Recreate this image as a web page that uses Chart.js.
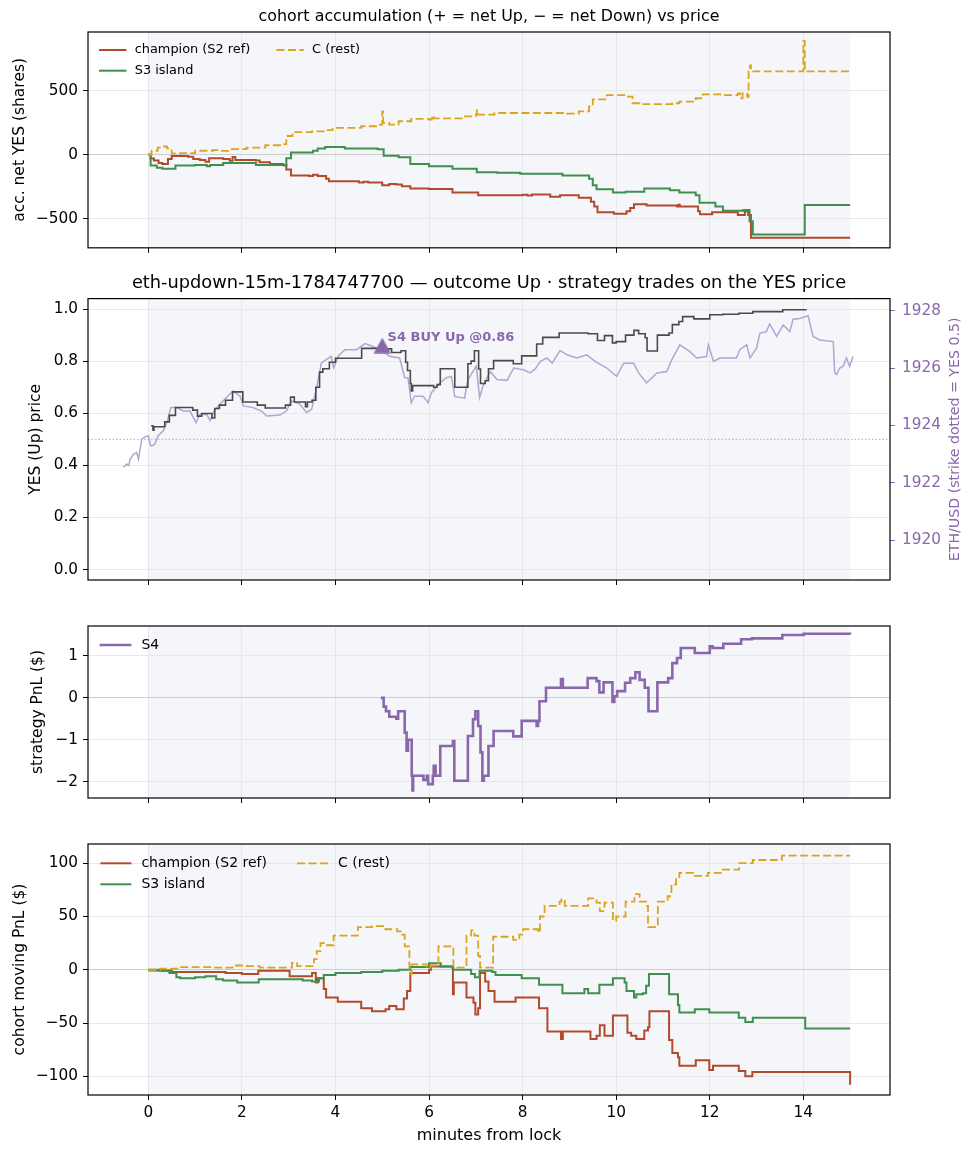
<!DOCTYPE html>
<html><head><meta charset="utf-8">
<script src="https://cdn.jsdelivr.net/npm/chart.js@4.4.1/dist/chart.umd.min.js"></script>
<style>
html,body{margin:0;padding:0;background:#fff;}
#wrap{position:relative;width:973px;height:1156px;overflow:hidden;}
#wrap canvas{position:absolute;left:0;}
</style></head><body>
<div id="wrap">
<canvas id="p1" width="973" height="262" style="top:0px"></canvas>
<canvas id="p2" width="973" height="338" style="top:262px"></canvas>
<canvas id="p3" width="973" height="220" style="top:600px"></canvas>
<canvas id="p4" width="973" height="336" style="top:820px"></canvas>
</div>
<script>
// ---------------- DATA ----------------
const windowStart = 0, windowEnd = 15;           // lock window (minutes)
const xTicks = [0, 2, 4, 6, 8, 10, 12, 14];
const accTicks = [-500, 0, 500];
const yesTicks = [0, 0.2, 0.4, 0.6, 0.8, 1.0];
const ethTicks = [1920, 1922, 1924, 1926, 1928];
const s4Ticks = [-2, -1, 0, 1];
const pnlTicks = [-100, -50, 0, 50, 100];
const strikeYes = 0.5;

// panel 1: accumulated net YES shares [minute, shares]
const accChampion = [[0,0],[0.05,-30],[0.12,-45],[0.22,-64],[0.3,-72],[0.42,-33],[0.5,-10],[0.85,-15],[0.96,-33],[1.1,-41],[1.22,-54],[1.3,-28],[1.6,-33],[1.74,-46],[1.8,-18],[1.86,-41],[2.3,-45],[2.38,-59],[2.6,-72],[2.88,-79],[2.95,-115],[3.05,-161],[3.44,-166],[3.52,-156],[3.62,-165],[3.8,-187],[3.86,-207],[4.5,-217],[4.6,-210],[4.7,-217],[5.0,-238],[5.15,-228],[5.3,-232],[5.42,-245],[5.6,-263],[6.0,-266],[6.5,-294],[7.05,-315],[8.0,-312],[8.1,-318],[8.2,-310],[8.59,-327],[8.8,-315],[9.2,-335],[9.46,-366],[9.53,-404],[9.6,-447],[9.95,-460],[10.22,-440],[10.3,-415],[10.38,-386],[10.65,-396],[11.3,-404],[11.33,-390],[11.36,-404],[11.75,-440],[11.79,-463],[12.05,-447],[12.6,-470],[12.75,-440],[12.82,-470],[12.88,-647],[15,-647]];
const accS3 = [[0,0],[0.05,-84],[0.18,-102],[0.3,-110],[0.58,-84],[1.0,-79],[1.25,-90],[1.32,-79],[1.6,-64],[2.3,-79],[2.9,-84],[2.95,-28],[3.05,18],[3.52,31],[3.62,49],[3.78,61],[4.2,49],[4.9,43],[5.03,-8],[5.35,-20],[5.6,-72],[6.0,-90],[6.5,-110],[7.02,-136],[7.45,-141],[7.95,-148],[8.85,-161],[9.42,-187],[9.5,-238],[9.58,-268],[9.93,-294],[10.2,-289],[10.6,-263],[11.15,-276],[11.35,-294],[11.7,-315],[11.78,-373],[12.12,-404],[12.28,-437],[12.72,-430],[12.85,-519],[12.92,-621],[14.03,-391],[15,-391]];
const accRest = [[0,0],[0.07,31],[0.2,55],[0.28,64],[0.4,49],[0.5,10],[0.7,12],[1.0,31],[1.38,36],[1.5,30],[1.74,43],[2.1,56],[2.5,74],[2.88,82],[2.95,146],[3.08,176],[3.5,182],[3.8,192],[3.94,210],[4.55,222],[4.95,235],[5.0,338],[5.02,248],[5.15,235],[5.35,261],[5.62,279],[6.0,274],[6.06,304],[6.1,284],[6.7,299],[7.0,312],[7.02,345],[7.05,312],[7.4,325],[8.5,325],[8.95,320],[9.2,338],[9.42,376],[9.5,432],[9.8,465],[10.2,453],[10.35,401],[10.5,394],[11.2,401],[11.35,414],[11.7,440],[11.85,470],[12.25,465],[12.6,478],[12.65,440],[12.7,478],[12.8,450],[12.83,650],[12.86,695],[12.88,650],[13.98,650],[14.0,887],[14.03,650],[15,650]];

// panel 2: YES (Up) price and ETH/USD
const yesPrice = [[0.06,0.552],[0.1,0.535],[0.12,0.548],[0.35,0.567],[0.45,0.592],[0.58,0.622],[0.95,0.612],[1.05,0.589],[1.14,0.599],[1.36,0.582],[1.42,0.618],[1.52,0.631],[1.65,0.65],[1.8,0.682],[2.02,0.643],[2.33,0.631],[2.5,0.62],[2.93,0.631],[3.04,0.662],[3.12,0.643],[3.36,0.625],[3.4,0.643],[3.5,0.65],[3.58,0.70],[3.66,0.758],[3.73,0.771],[3.87,0.796],[4.0,0.811],[4.56,0.849],[4.9,0.847],[5.2,0.833],[5.4,0.84],[5.5,0.796],[5.54,0.764],[5.6,0.714],[5.62,0.686],[5.65,0.706],[6.1,0.70],[6.17,0.71],[6.24,0.771],[6.55,0.70],[6.83,0.79],[6.9,0.80],[6.97,0.84],[7.06,0.77],[7.1,0.714],[7.2,0.725],[7.27,0.771],[7.38,0.802],[7.8,0.79],[7.98,0.82],[8.3,0.866],[8.43,0.891],[8.78,0.908],[9.4,0.905],[9.6,0.879],[9.75,0.898],[9.92,0.87],[10.0,0.875],[10.2,0.90],[10.38,0.918],[10.48,0.905],[10.62,0.89],[10.66,0.839],[10.88,0.90],[11.13,0.908],[11.2,0.94],[11.34,0.952],[11.42,0.971],[11.66,0.962],[12.0,0.978],[12.28,0.980],[12.62,0.984],[12.92,0.99],[13.56,0.997],[14.07,0.997]];
const ethPrice = [[-0.53,1922.54],[-0.46,1922.65],[-0.42,1922.6],[-0.39,1922.82],[-0.32,1922.99],[-0.25,1923.06],[-0.21,1922.82],[-0.14,1923.52],[-0.07,1923.6],[0.0,1923.64],[0.05,1923.29],[0.1,1923.3],[0.14,1923.35],[0.21,1923.64],[0.32,1923.81],[0.41,1924.16],[0.48,1924.62],[0.6,1924.62],[0.75,1924.5],[0.89,1924.5],[1.02,1924.1],[1.1,1924.38],[1.25,1924.38],[1.32,1924.16],[1.39,1924.45],[1.53,1924.74],[1.67,1924.97],[1.81,1925.2],[1.96,1925.02],[2.03,1924.68],[2.24,1924.62],[2.42,1924.5],[2.53,1924.33],[2.81,1924.36],[2.95,1924.5],[3.06,1924.85],[3.24,1924.74],[3.38,1924.45],[3.49,1924.56],[3.59,1925.26],[3.7,1926.18],[3.81,1926.3],[3.91,1926.41],[3.96,1926.01],[4.06,1926.41],[4.2,1926.64],[4.45,1926.64],[4.63,1926.85],[4.8,1926.75],[4.98,1926.6],[5.16,1926.41],[5.37,1926.35],[5.48,1925.66],[5.55,1925.66],[5.62,1924.79],[5.69,1925.02],[5.87,1925.02],[5.98,1924.79],[6.05,1925.14],[6.23,1925.48],[6.37,1925.66],[6.48,1925.7],[6.55,1925.0],[6.76,1924.95],[6.83,1925.6],[7.01,1926.06],[7.08,1924.97],[7.15,1925.36],[7.31,1925.88],[7.45,1925.6],[7.67,1925.57],[7.81,1926.0],[8.02,1925.94],[8.16,1925.83],[8.27,1925.97],[8.38,1926.23],[8.52,1926.35],[8.63,1926.17],[8.8,1926.61],[8.95,1926.46],[9.16,1926.35],[9.37,1926.46],[9.55,1926.23],[9.8,1926.0],[10.01,1925.71],[10.16,1926.17],[10.37,1926.17],[10.48,1925.83],[10.65,1925.48],[10.87,1925.83],[11.08,1925.88],[11.19,1926.29],[11.36,1926.81],[11.57,1926.58],[11.72,1926.35],[11.93,1926.4],[11.97,1926.81],[12.08,1926.23],[12.22,1926.35],[12.57,1926.35],[12.64,1926.64],[12.79,1926.81],[12.86,1926.35],[13.0,1926.69],[13.07,1927.21],[13.21,1927.27],[13.28,1927.54],[13.43,1927.1],[13.57,1927.5],[13.71,1927.27],[13.78,1927.7],[13.92,1927.73],[14.1,1927.82],[14.21,1927.1],[14.35,1926.98],[14.64,1926.92],[14.67,1925.83],[14.71,1925.77],[14.78,1926.0],[14.85,1926.06],[14.92,1926.35],[14.99,1926.06],[15.06,1926.4]];
const buyT = [5.0];
const buyP = [0.86];
const buyLabels = ['S4 BUY Up @0.86'];

// panel 3: S4 strategy PnL ($)
const s4Pnl = [[4.97,0],[5.03,-0.21],[5.08,-0.32],[5.15,-0.45],[5.3,-0.5],[5.34,-0.32],[5.48,-0.83],[5.52,-1.26],[5.55,-1.0],[5.63,-1.86],[5.645,-2.21],[5.66,-1.86],[5.88,-1.96],[5.95,-1.86],[5.98,-2.06],[6.08,-1.86],[6.1,-1.62],[6.14,-1.86],[6.24,-1.15],[6.51,-1.03],[6.54,-1.98],[6.83,-0.91],[6.94,-0.51],[6.99,-0.32],[7.05,-0.67],[7.1,-1.3],[7.14,-1.98],[7.17,-1.86],[7.27,-1.15],[7.38,-0.79],[7.8,-0.92],[7.98,-0.55],[8.3,-0.67],[8.33,-0.55],[8.36,-0.08],[8.5,0.24],[8.82,0.45],[8.86,0.24],[9.39,0.47],[9.58,0.40],[9.64,0.13],[9.73,0.37],[9.92,-0.1],[9.96,0.04],[10.02,0.16],[10.19,0.36],[10.3,0.47],[10.41,0.61],[10.5,0.43],[10.61,0.24],[10.69,-0.32],[10.88,0.37],[11.11,0.47],[11.2,0.83],[11.3,0.95],[11.38,1.19],[11.68,1.07],[12.0,1.23],[12.06,1.19],[12.29,1.29],[12.67,1.40],[12.9,1.42],[13.55,1.50],[14.01,1.53],[15.0,1.52]];

// panel 4: cohort moving PnL ($)
const pnlChampion = [[0,-0.6],[0.5,-2],[1.65,-3],[2.0,-4],[2.35,-1],[3.02,-6],[3.5,-3],[3.58,-12],[3.62,-8],[3.75,-18],[3.8,-26],[4.05,-30],[4.55,-36],[4.78,-39],[5.07,-37],[5.15,-34],[5.3,-37],[5.46,-27],[5.53,-20],[5.6,-3],[6.0,0],[6.04,3],[6.5,2],[6.51,-23],[6.53,-12],[6.8,-26],[6.95,-31],[6.99,-42],[7.05,-36],[7.09,-3],[7.2,-11],[7.27,-20],[7.4,-30],[7.85,-26],[8.35,-36],[8.53,-58],[8.82,-65],[8.86,-58],[9.45,-65],[9.58,-62],[9.65,-52],[9.75,-62],[9.93,-43],[10.24,-59],[10.32,-62],[10.43,-65],[10.6,-57],[10.68,-54],[10.71,-39],[11.13,-66],[11.2,-78],[11.32,-82],[11.35,-90],[11.7,-85],[11.99,-94],[12.07,-90],[12.62,-95],[12.76,-100],[12.91,-96],[14.98,-96],[15.0,-108]];
const pnlS3 = [[0,0],[0.25,-1],[0.45,-3],[0.6,-7],[0.68,-8],[1.0,-7],[1.22,-6],[1.45,-9],[1.6,-10],[1.9,-12],[2.36,-9],[3.3,-10],[3.5,-11],[3.65,-8],[3.75,-5],[4.0,-3],[4.55,-2],[5.0,-1],[5.35,0],[5.6,2.5],[6.0,6],[6.25,3],[6.52,0],[6.9,-4],[6.98,-7],[7.08,-1],[7.35,-2],[7.42,-5],[7.98,-8],[8.35,-14],[8.85,-22],[9.32,-18],[9.4,-22],[9.64,-14],[9.93,-8],[10.18,-12],[10.22,-20],[10.38,-26],[10.43,-23],[10.57,-22],[10.64,-15],[10.7,-4],[11.13,-23],[11.32,-33],[11.35,-40],[11.68,-37],[11.99,-40],[12.62,-45],[12.76,-49],[12.92,-45],[14.04,-55],[15.0,-55]];
const pnlRest = [[0,0],[0.25,1],[0.65,2.5],[1.4,2],[1.8,4],[2.1,3.4],[2.38,2],[3.07,6.5],[3.18,3.4],[3.54,10],[3.6,17.5],[3.68,25],[3.78,23],[3.96,32],[4.48,40],[4.78,41],[5.07,38],[5.32,36],[5.42,33],[5.48,22],[5.58,0],[5.61,-4],[5.63,5],[5.95,2],[6.03,4],[6.2,22],[6.52,2],[6.8,32],[6.9,37],[6.97,32],[7.05,13],[7.09,2],[7.37,31],[7.8,28],[7.93,33],[8.01,38],[8.33,35],[8.37,50],[8.47,60],[8.79,64],[8.83,66],[8.9,60],[9.4,67],[9.58,63],[9.65,55],[9.75,63],[9.93,46],[10.0,50],[10.2,64],[10.39,71],[10.5,64],[10.64,60],[10.68,40],[10.89,64],[11.1,69],[11.18,80],[11.28,85],[11.35,91],[11.64,88],[11.96,91],[12.28,94],[12.63,100],[12.92,103],[13.54,107],[15.0,107]];

// ---------------- STYLE ----------------
const X_MIN = -1.289, X_MAX = 15.852;
const C_CHAMP = '#b24a2d', C_S3 = '#3f8f4f', C_REST = '#dca31e', C_S4 = '#8a67ab';
const C_YES = '#4a4a4a', C_ETH = '#b5a3d2', PURPLE = '#8a67ab';
const SHADE = '#f5f6fa', GRID = '#e8e8eb', ZERO = '#cdcdcd';
const FS_TICK = 15.3, FS_LABEL = 15.5, FS_XLABEL = 16;

Chart.defaults.font.family = "'DejaVu Sans', sans-serif";
Chart.defaults.color = '#000';
Chart.defaults.animation = false;

const fmtSigned = v => (v < 0 ? '\u2212' : '') + Math.abs(v);

function xAxis(h, withLabels) {
  return {
    type: 'linear', min: X_MIN, max: X_MAX,
    afterBuildTicks: s => { s.ticks = xTicks.map(v => ({value: v})); },
    afterFit: s => { s.height = h; },
    ticks: {display: withLabels, autoSkip: false, maxRotation: 0, padding: 3.8, font: {size: FS_TICK}, color: '#000', callback: v => fmtSigned(v)},
    grid: {color: GRID, tickColor: '#000', tickLength: 5, lineWidth: 1},
    border: {display: false},
    title: {display: withLabels, text: 'minutes from lock', font: {size: FS_XLABEL}, color: '#000', padding: {top: 0, bottom: 10.4}}
  };
}
function yAxis(o) {
  return {
    type: 'linear', position: o.pos || 'left', min: o.min, max: o.max,
    afterBuildTicks: s => { s.ticks = o.ticks.map(v => ({value: v})); },
    afterFit: s => { s.width = o.width || 88; },
    ticks: {padding: o.pad ?? 5, font: {size: FS_TICK}, color: o.color || '#000', callback: o.fmt},
    grid: {drawOnChartArea: o.grid !== false, color: c => (o.zero && c.tick && c.tick.value === 0) ? ZERO : GRID,
           tickColor: o.tickColor || '#000', tickLength: 5, lineWidth: 1},
    border: {display: false},
    title: {display: !!o.title, text: o.title || '', font: {size: FS_LABEL}, color: '#000', padding: {top: o.tpad || 0, bottom: 0}}
  };
}
const shadePlugin = {id: 'shade', beforeDraw(c) {
  const a = c.chartArea, x = c.scales.x, ctx = c.ctx;
  const x0 = x.getPixelForValue(windowStart), x1 = x.getPixelForValue(windowEnd);
  ctx.save(); ctx.fillStyle = SHADE; ctx.fillRect(x0, a.top, x1 - x0, a.bottom - a.top); ctx.restore();
}};
const framePlugin = {id: 'frame', afterDraw(c) {
  const a = c.chartArea, ctx = c.ctx;
  ctx.save(); ctx.strokeStyle = '#000'; ctx.lineWidth = 1.2;
  ctx.strokeRect(a.left, a.top, a.right - a.left, a.bottom - a.top); ctx.restore();
}};
function legendPlugin(cfg) {
  return {id: 'lg', afterDraw(c) {
    const a = c.chartArea, ctx = c.ctx;
    ctx.save(); ctx.font = cfg.size + "px 'DejaVu Sans'"; ctx.textBaseline = 'middle'; ctx.textAlign = 'left'; ctx.fillStyle = '#000';
    cfg.cols.forEach((col, ci) => col.forEach((di, ri) => {
      const ds = c.data.datasets[di];
      const y = a.top + cfg.y0 + ri * cfg.rowH, sx = a.left + cfg.colX[ci];
      ctx.strokeStyle = ds.borderColor; ctx.lineWidth = ds.borderWidth; ctx.setLineDash(ds.borderDash || []);
      ctx.beginPath(); ctx.moveTo(sx, y); ctx.lineTo(sx + cfg.len, y); ctx.stroke(); ctx.setLineDash([]);
      ctx.fillText(ds.label, sx + cfg.textDx, y);
    }));
    ctx.restore();
  }};
}
function stepDs(label, data, color, width, dash, order) {
  return {label, data, borderColor: color, backgroundColor: color, borderWidth: width, borderDash: dash || [],
          stepped: true, pointRadius: 0, fill: false, order, tension: 0};
}
function baseOpts() {
  return {responsive: false, maintainAspectRatio: false, animation: false, events: [],
          plugins: {legend: {display: false}, tooltip: {enabled: false}, title: {display: false}}};
}

// ---------------- PANEL 1 ----------------
{
  const o = baseOpts();
  o.layout = {padding: {left: 0, right: 83, top: 0, bottom: 0}};
  o.plugins.title = {display: true, fullSize: false, text: 'cohort accumulation (+ = net Up, \u2212 = net Down) vs price',
    font: {size: 15.9, weight: 'normal'}, color: '#000', padding: {top: 7.46, bottom: 5.46}};
  o.scales = {x: xAxis(10, false), y: yAxis({min: -725, max: 956, ticks: accTicks, fmt: fmtSigned, title: 'acc. net YES (shares)', tpad: 10.7, zero: true})};
  new Chart(document.getElementById('p1'), {type: 'line',
    data: {datasets: [
      stepDs('champion (S2 ref)', accChampion, C_CHAMP, 2, null, 3),
      stepDs('S3 island', accS3, C_S3, 2, null, 2),
      stepDs('C (rest)', accRest, C_REST, 1.8, [8, 3.5], 1)]},
    options: o,
    plugins: [shadePlugin, framePlugin, legendPlugin({size: 12.9, y0: 18, rowH: 20.7, colX: [11, 188.4], len: 27.4, textDx: 35.7, cols: [[0, 1], [2]]})]});
}

// ---------------- PANEL 2 ----------------
{
  const tri = document.createElement('canvas'); tri.width = 18; tri.height = 16;
  const tc = tri.getContext('2d'); tc.fillStyle = PURPLE; tc.beginPath();
  tc.moveTo(9, 0.3); tc.lineTo(17.6, 15.7); tc.lineTo(0.4, 15.7); tc.closePath(); tc.fill();

  const o = baseOpts();
  o.layout = {padding: {left: 0, right: 0, top: 0, bottom: 0}};
  o.plugins.title = {display: true, fullSize: false, text: 'eth-updown-15m-1784747700 \u2014 outcome Up \u00b7 strategy trades on the YES price',
    font: {size: 17.8, weight: 'normal'}, color: '#000', padding: {top: 10.32, bottom: 4.92}};
  o.scales = {
    x: xAxis(20, false),
    y: yAxis({min: -0.04, max: 1.04, ticks: yesTicks, fmt: v => v.toFixed(1), title: 'YES (Up) price', tpad: 26.7}),
    y2: yAxis({pos: 'right', min: 1918.61, max: 1928.42, ticks: ethTicks, fmt: v => String(v), width: 83, pad: 7, color: PURPLE, grid: false, tickColor: PURPLE})
  };
  const strikePlugin = {id: 'strike', beforeDatasetsDraw(c) {
    const a = c.chartArea, ctx = c.ctx, yy = c.scales.y.getPixelForValue(strikeYes);
    ctx.save(); ctx.strokeStyle = C_ETH; ctx.lineWidth = 1; ctx.setLineDash([1.5, 2]);
    ctx.beginPath(); ctx.moveTo(a.left, yy); ctx.lineTo(a.right, yy); ctx.stroke(); ctx.restore();
  }};
  const annPlugin = {id: 'ann', afterDatasetsDraw(c) {
    const x = c.scales.x, y = c.scales.y, ctx = c.ctx;
    ctx.save(); ctx.font = "bold 13px 'DejaVu Sans'"; ctx.fillStyle = PURPLE; ctx.textBaseline = 'middle'; ctx.textAlign = 'left';
    buyT.forEach((t, i) => ctx.fillText(buyLabels[i], x.getPixelForValue(t) + 5.3, y.getPixelForValue(buyP[i]) - 7.6));
    ctx.restore();
  }};
  const rTitlePlugin = {id: 'rtitle', afterDraw(c) {
    const a = c.chartArea, ctx = c.ctx, s = c.scales.y2;
    ctx.save(); ctx.translate(s.right - 18, (a.top + a.bottom) / 2); ctx.rotate(-Math.PI / 2);
    ctx.font = "14.2px 'DejaVu Sans'"; ctx.fillStyle = PURPLE; ctx.textAlign = 'center'; ctx.textBaseline = 'middle';
    ctx.fillText('ETH/USD (strike dotted = YES 0.5)', 0, 0); ctx.restore();
  }};
  new Chart(document.getElementById('p2'), {type: 'line',
    data: {datasets: [
      {label: 'S4 BUY', data: buyT.map((t, i) => [t, buyP[i]]), showLine: false, pointStyle: tri, pointRadius: 9, yAxisID: 'y', order: 0},
      Object.assign(stepDs('YES price', yesPrice, C_YES, 1.6, null, 1), {yAxisID: 'y'}),
      {label: 'ETH/USD', data: ethPrice, borderColor: C_ETH, borderWidth: 1.5, pointRadius: 0, yAxisID: 'y2', order: 2, tension: 0}]},
    options: o,
    plugins: [shadePlugin, strikePlugin, annPlugin, framePlugin, rTitlePlugin]});
}

// ---------------- PANEL 3 ----------------
{
  const o = baseOpts();
  o.layout = {padding: {left: 0, right: 83, top: 26, bottom: 0}};
  o.scales = {x: xAxis(22, false), y: yAxis({min: -2.39, max: 1.715, ticks: s4Ticks, fmt: fmtSigned, title: 'strategy PnL ($)', tpad: 29, zero: true})};
  new Chart(document.getElementById('p3'), {type: 'line',
    data: {datasets: [stepDs('S4', s4Pnl, C_S4, 2.6, null, 1)]},
    options: o,
    plugins: [shadePlugin, framePlugin, legendPlugin({size: 14, y0: 19, rowH: 21, colX: [11.7], len: 31.7, textDx: 41.7, cols: [[0]]})]});
}

// ---------------- PANEL 4 ----------------
{
  const o = baseOpts();
  o.layout = {padding: {left: 0, right: 83, top: 24, bottom: 0}};
  o.scales = {x: xAxis(61, true), y: yAxis({min: -117.5, max: 118, ticks: pnlTicks, fmt: fmtSigned, title: 'cohort moving PnL ($)', tpad: 10.7, zero: true})};
  new Chart(document.getElementById('p4'), {type: 'line',
    data: {datasets: [
      stepDs('champion (S2 ref)', pnlChampion, C_CHAMP, 2, null, 3),
      stepDs('S3 island', pnlS3, C_S3, 2, null, 2),
      stepDs('C (rest)', pnlRest, C_REST, 1.8, [8, 3.5], 1)]},
    options: o,
    plugins: [shadePlugin, framePlugin, legendPlugin({size: 14, y0: 19.3, rowH: 21, colX: [12.4, 209], len: 31, textDx: 41, cols: [[0, 1], [2]]})]});
}
</script>
</body></html>
